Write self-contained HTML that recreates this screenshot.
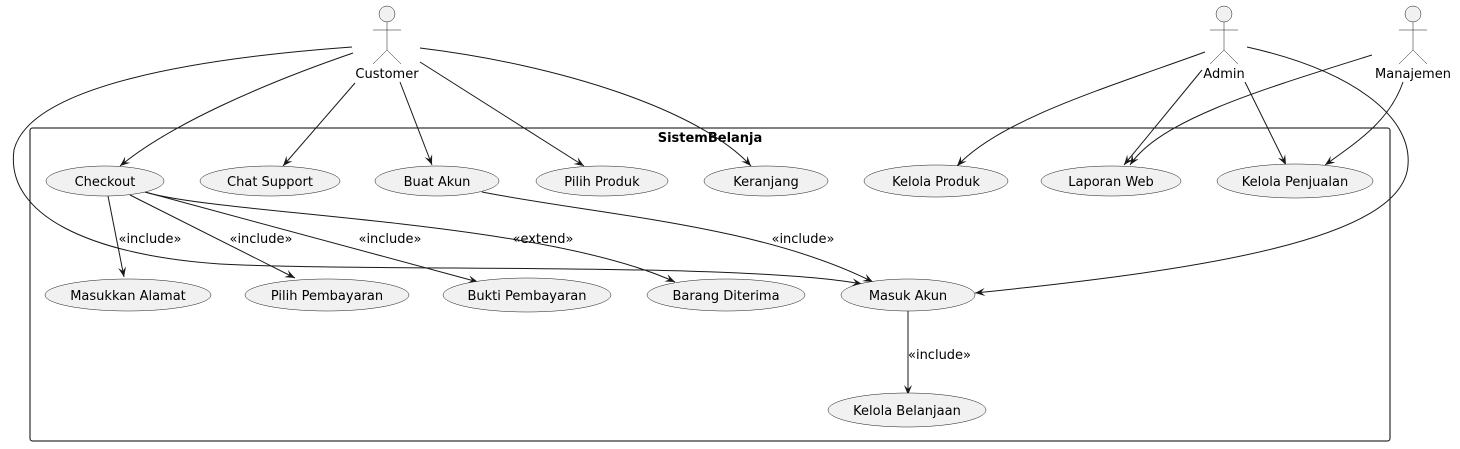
<!DOCTYPE html>
<html><head><meta charset="utf-8"><style>
html,body{margin:0;padding:0;background:#fff;}
svg{display:block;}
text{font-family:"DejaVu Sans","Liberation Sans",sans-serif;font-size:13px;fill:#000;}
.uc{fill:#f1f1f1;stroke:#181818;stroke-width:0.5;}
.ln{fill:none;stroke:#181818;stroke-width:1;}
.act{fill:none;stroke:#181818;stroke-width:0.5;}
</style></head><body>
<svg width="1460" height="449" viewBox="0 0 1460 449" xmlns="http://www.w3.org/2000/svg">
<defs>
<marker id="a" viewBox="0 0 10 8" refX="10" refY="4" markerWidth="10" markerHeight="8" markerUnits="userSpaceOnUse" orient="auto">
<path d="M0,0 L10,4 L0,8 L4,4 Z" fill="#181818"/>
</marker>
</defs>
<rect x="30" y="128" width="1360" height="313" rx="2.5" fill="none" stroke="#000" stroke-width="1"/>
<text x="710" y="142" text-anchor="middle" style="font-weight:bold">SistemBelanja</text>

<!-- actors -->
<g>
<circle cx="387" cy="14" r="8" fill="#f1f1f1" stroke="#181818" stroke-width="0.5"/>
<path class="act" d="M387,22 V50 M373,30 H401 M387,50 L373,64 M387,50 L401,64"/>
<text x="387" y="78" text-anchor="middle">Customer</text>
<circle cx="1224" cy="14" r="8" fill="#f1f1f1" stroke="#181818" stroke-width="0.5"/>
<path class="act" d="M1224,22 V50 M1210,30 H1238 M1224,50 L1210,64 M1224,50 L1238,64"/>
<text x="1224" y="78" text-anchor="middle">Admin</text>
<circle cx="1413" cy="14" r="8" fill="#f1f1f1" stroke="#181818" stroke-width="0.5"/>
<path class="act" d="M1413,22 V50 M1399,30 H1427 M1413,50 L1399,64 M1413,50 L1427,64"/>
<text x="1413" y="78" text-anchor="middle">Manajemen</text>
</g>

<!-- edges -->
<g class="ln" marker-end="url(#a)">
<path d="M353,53 C260,85 170,125 120,166"/>
<path d="M355,83 L283,166"/>
<path d="M400,82 L432,165"/>
<path d="M420,62 L584,166"/>
<path d="M420,48 C560,65 700,110 751,166"/>
<path d="M352,47 C200,58 30,85 14,150 C5,215 90,255 220,264 C380,272 740,262 862,284"/>
<path d="M108,196 L124,277"/>
<path d="M130,195 L295,278"/>
<path d="M145,192 L478,282"/>
<path d="M145,192 C220,215 540,220 675,282"/>
<path d="M482,192 C600,215 760,225 873,282"/>
<path d="M1205,52 C1100,90 1000,120 957,166"/>
<path d="M1202,70 L1124,165"/>
<path d="M1372,55 C1260,90 1160,120 1130,165"/>
<path d="M1245,82 L1286,165"/>
<path d="M1403,82 C1390,120 1360,140 1325,165"/>
<path d="M1247,47 C1350,70 1412,115 1408,165 C1403,240 1200,270 975,293"/>
<path d="M908,311 L908,395"/>
</g>

<!-- labels -->
<text x="150" y="243" text-anchor="middle">«include»</text>
<text x="261" y="243" text-anchor="middle">«include»</text>
<text x="390" y="243" text-anchor="middle">«include»</text>
<text x="543" y="243" text-anchor="middle">«extend»</text>
<text x="803" y="243" text-anchor="middle">«include»</text>
<text x="908" y="359">«include»</text>

<!-- use cases -->
<ellipse class="uc" cx="105" cy="181" rx="59" ry="15"/><text x="105" y="186" text-anchor="middle">Checkout</text>
<ellipse class="uc" cx="270" cy="181" rx="70" ry="15"/><text x="270" y="186" text-anchor="middle">Chat Support</text>
<ellipse class="uc" cx="437" cy="181" rx="62" ry="15"/><text x="437" y="186" text-anchor="middle">Buat Akun</text>
<ellipse class="uc" cx="602" cy="181" rx="66" ry="15"/><text x="602" y="186" text-anchor="middle">Pilih Produk</text>
<ellipse class="uc" cx="766" cy="181" rx="62" ry="15"/><text x="766" y="186" text-anchor="middle">Keranjang</text>
<ellipse class="uc" cx="936" cy="181" rx="72" ry="16"/><text x="936" y="186" text-anchor="middle">Kelola Produk</text>
<ellipse class="uc" cx="1111" cy="181" rx="70" ry="15"/><text x="1111" y="186" text-anchor="middle">Laporan Web</text>
<ellipse class="uc" cx="1295" cy="181" rx="78" ry="17"/><text x="1295" y="186" text-anchor="middle">Kelola Penjualan</text>

<ellipse class="uc" cx="128" cy="295" rx="83" ry="16"/><text x="128" y="300" text-anchor="middle">Masukkan Alamat</text>
<ellipse class="uc" cx="327" cy="295" rx="82" ry="16"/><text x="327" y="300" text-anchor="middle">Pilih Pembayaran</text>
<ellipse class="uc" cx="527" cy="295" rx="84" ry="17"/><text x="527" y="300" text-anchor="middle">Bukti Pembayaran</text>
<ellipse class="uc" cx="726" cy="295" rx="79" ry="16"/><text x="726" y="300" text-anchor="middle">Barang Diterima</text>
<ellipse class="uc" cx="908" cy="295" rx="67" ry="16"/><text x="908" y="300" text-anchor="middle">Masuk Akun</text>
<ellipse class="uc" cx="907" cy="410" rx="79" ry="17"/><text x="907" y="415" text-anchor="middle">Kelola Belanjaan</text>
</svg>
</body></html>
